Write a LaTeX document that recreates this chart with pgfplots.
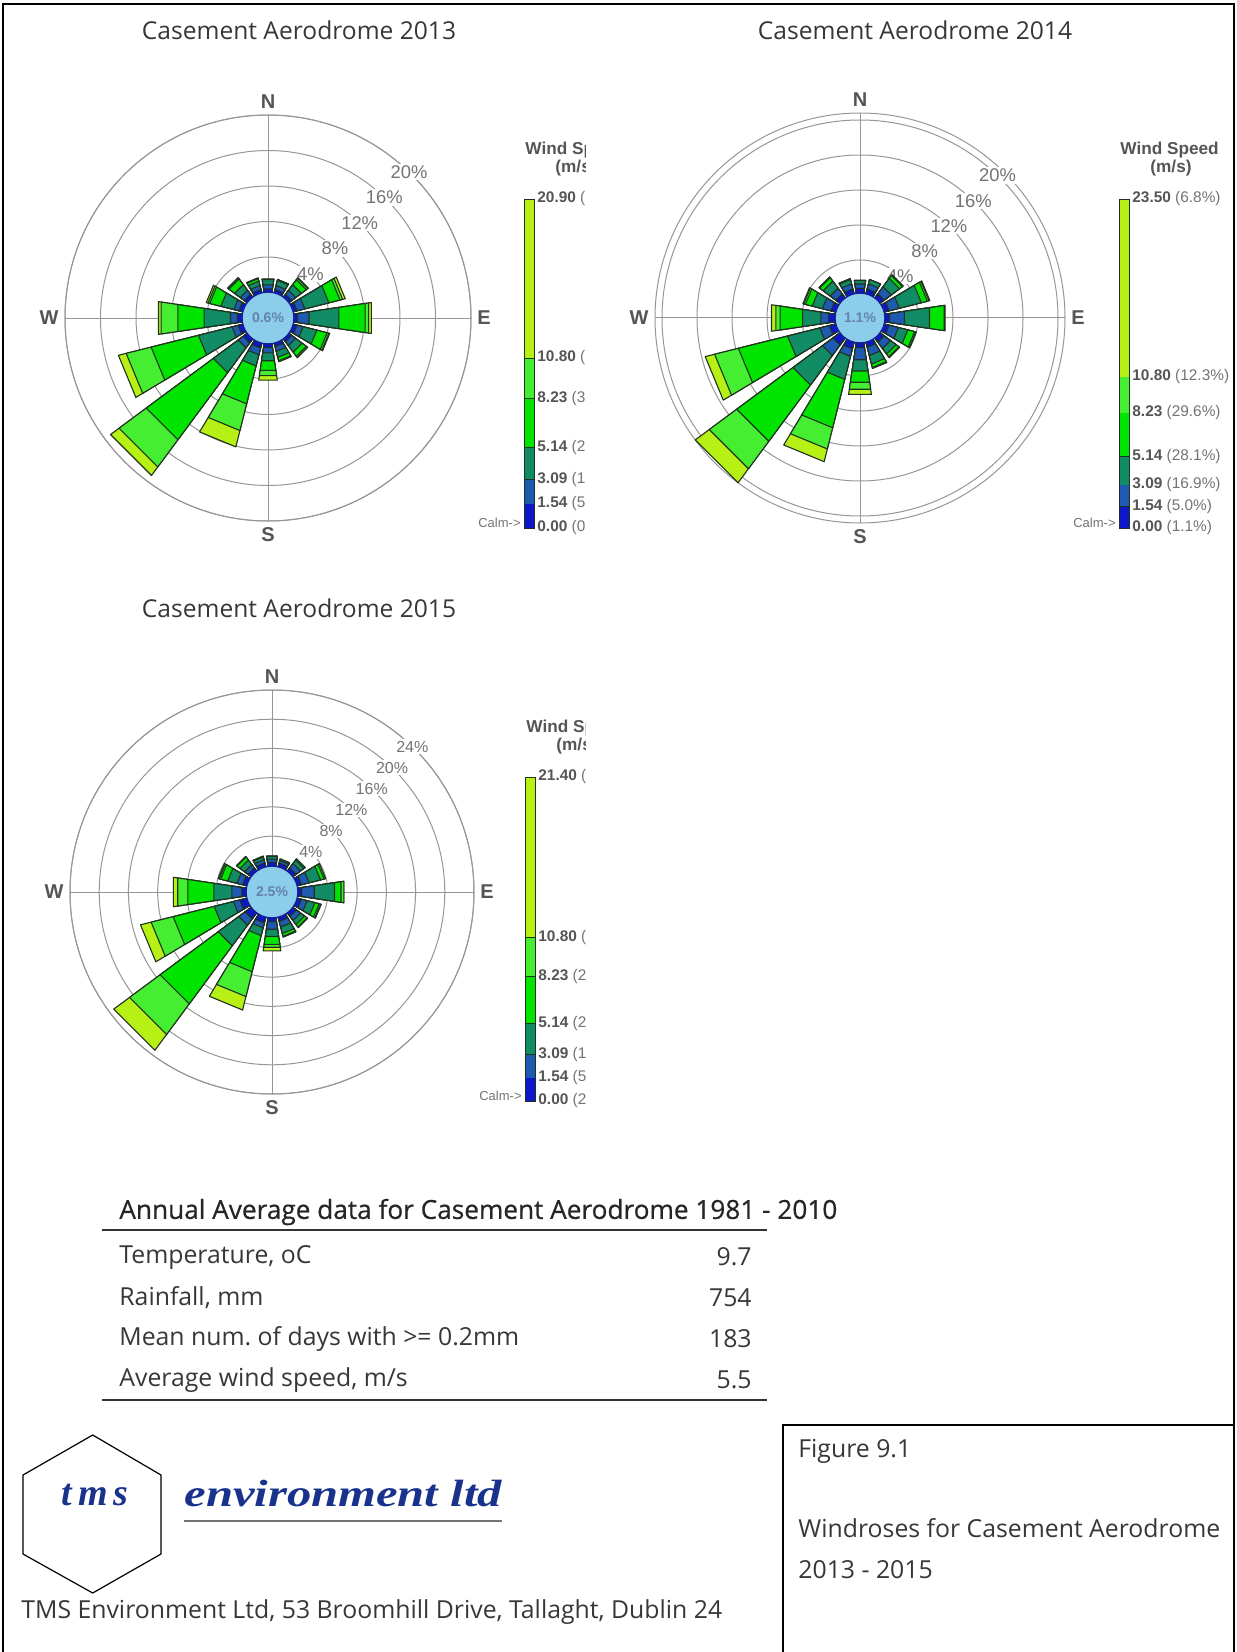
\documentclass[border=0pt]{standalone}
\usepackage{fontspec}
\setmainfont{Open Sans}
\newfontfamily\semib[FakeBold=0.6]{Open Sans}
\newfontfamily\arial{Liberation Sans}
\newfontfamily\tmsserif{Liberation Serif}
\usepackage{graphicx}
\usepackage{pgfplots}
\pgfplotsset{compat=1.18}
\usepgfplotslibrary{polar}

\definecolor{wcA}{RGB}{12,24,200}
\definecolor{wcB}{RGB}{30,90,175}
\definecolor{wcC}{RGB}{18,140,100}
\definecolor{wcD}{RGB}{0,228,0}
\definecolor{wcE}{RGB}{70,238,50}
\definecolor{wcF}{RGB}{182,240,20}
\definecolor{edgec}{RGB}{30,50,30}
\definecolor{gridc}{RGB}{150,150,150}
\definecolor{calmf}{RGB}{140,205,235}
\definecolor{calme}{RGB}{20,30,150}
\definecolor{calmt}{RGB}{100,130,170}
\definecolor{labc}{RGB}{85,85,85}
\definecolor{pctc}{RGB}{115,115,115}
\definecolor{txtc}{RGB}{55,55,55}
\definecolor{tmsblue}{RGB}{25,50,140}

\newcommand\fs[1]{\fontsize{#1}{#1}\selectfont}

\tikzset{
  petal/.style={draw=edgec, line width=0.55pt, line join=round},
  pctlab/.style={fill=white, inner sep=0.8pt, font=\arial\fs{9.2pt}, text=pctc},
  calm/.style={circle, fill=calmf, draw=calme, line width=0.7pt, inner sep=0pt, font=\arial\bfseries\fs{7pt}, text=calmt},
}
\pgfplotsset{rose/.style={anchor=center, scale only axis, xmin=0, xmax=360, ymin=0,
  xtick={0,90,180,270}, xticklabels={E,N,W,S}, yticklabels={},
  grid=major, major grid style={draw=gridc, line width=0.5pt},
  axis line style={draw=gridc, line width=0.5pt}, major tick length=0pt, clip=false,
  xticklabel style={font=\arial\bfseries\fs{10pt}, text=labc, inner sep=3pt}}}

% one layer of a petal: from the centre to the cumulative percentage #2
\newcommand\wlayer[2]{%
  \pgfmathsetmacro\rr{#2+\off}%
  \edef\tmp{\noexpand\addplot[petal,fill=#1] coordinates {(\ta,0) (\ta,\rr) (\tb,\rr) (\tb,0)};}%
  \tmp}
% #1 bearing, #2..#7 cumulative percentages of the six speed classes
\newcommand\petal[7]{%
  \pgfmathsetmacro\ta{90-#1-8.5}%
  \pgfmathsetmacro\tb{90-#1+8.5}%
  \wlayer{wcF}{#7}\wlayer{wcE}{#6}\wlayer{wcD}{#5}\wlayer{wcC}{#4}\wlayer{wcB}{#3}\wlayer{wcA}{#2}}

% legend bar: #1 x-left, #2 y-top, #3 y-bottom (px), #4 vmax, #5 list v/label/pct
\newcommand\wlegend[5]{%
  \pgfmathsetmacro\kk{(#3-#2)/#4}%
  \foreach \va/\vb/\cc in {0/1.54/wcA,1.54/3.09/wcB,3.09/5.14/wcC,5.14/8.23/wcD,8.23/10.80/wcE,10.80/#4/wcF}{%
    \fill[\cc] (#1,{#3-\va*\kk}) rectangle (#1+10,{#3-\vb*\kk});
    \draw[edgec, line width=0.4pt] (#1,{#3-\vb*\kk}) -- (#1+10,{#3-\vb*\kk});
  }
  \draw[edgec,line width=0.4pt] (#1,#2) rectangle (#1+10,#3);
  \foreach \lv/\lt/\lp in {#5}{%
    \node[anchor=west, inner sep=0pt, font=\arial\fs{7.7pt}] at (#1+13,{#3-\lv*\kk}) {\textcolor{labc}{\bfseries\lt}\ \textcolor{pctc}{(\lp)}};
  }
  \node[anchor=east, inner sep=0pt, font=\arial\fs{6.5pt}, text=pctc] at (#1-3,#3-5) {Calm->};
  \node[anchor=west, inner sep=0pt, font=\arial\bfseries\fs{8.6pt}, text=labc] at (#1+1,#2-49) {Wind Speed};
  \node[anchor=center, inner sep=0pt, font=\arial\bfseries\fs{8.6pt}, text=labc] at (#1+52,#2-31) {(m/s)};
}

\begin{document}
\begin{tikzpicture}
\useasboundingbox (0,0) rectangle (618pt,-826pt);

% ---------------- 2013 ----------------
\begin{polaraxis}[rose, at={(134pt,-159pt)}, width=203pt, height=203pt,
  ymax=22.87, ytick={6.87,10.87,14.87,18.87,22.87}]
\def\off{2.87}
\node[pctlab] at (axis cs:46,6.87) {4\%};
\node[pctlab] at (axis cs:46,10.87) {8\%};
\node[pctlab] at (axis cs:46,14.87) {12\%};
\node[pctlab] at (axis cs:46,18.87) {16\%};
\node[pctlab] at (axis cs:46,22.87) {20\%};
\petal{0}{0.45}{0.9}{1.5}{1.55}{1.55}{1.55}
\petal{22.5}{0.45}{0.9}{1.5}{1.6}{1.6}{1.6}
\petal{45}{0.45}{1.0}{1.8}{2.5}{2.7}{2.8}
\petal{67.5}{0.5}{1.4}{4.2}{5.5}{5.8}{6.1}
\petal{90}{0.5}{1.8}{5.2}{8.2}{8.6}{8.9}
\petal{112.5}{0.5}{1.2}{2.8}{4.0}{4.2}{4.3}
\petal{135}{0.45}{1.0}{1.9}{2.5}{2.65}{2.7}
\petal{157.5}{0.45}{1.0}{1.7}{2.1}{2.2}{2.2}
\petal{180}{0.5}{1.1}{2.0}{3.1}{3.7}{4.2}
\petal{202.5}{0.6}{1.4}{2.7}{7.1}{10.2}{12.1}
\petal{225}{0.6}{1.3}{4.8}{14.2}{18.0}{19.2}
\petal{247.5}{0.6}{1.3}{5.2}{10.7}{13.6}{14.5}
\petal{270}{0.6}{1.4}{4.4}{7.4}{9.3}{9.6}
\petal{292.5}{0.5}{1.1}{2.6}{3.9}{4.1}{4.3}
\petal{315}{0.45}{1.0}{1.8}{2.6}{2.75}{2.8}
\petal{337.5}{0.45}{0.9}{1.4}{1.7}{1.75}{1.8}
\node[calm, minimum size=26pt] at (axis cs:0,0) {0.6\%};
\end{polaraxis}

% ---------------- 2014 ----------------
\begin{polaraxis}[rose, at={(430pt,-159pt)}, width=205pt, height=205pt,
  ymax=23.43, ytick={6.63,10.63,14.63,18.63,22.63}]
\def\off{2.63}
\node[pctlab] at (axis cs:46,6.63) {4\%};
\node[pctlab] at (axis cs:46,10.63) {8\%};
\node[pctlab] at (axis cs:46,14.63) {12\%};
\node[pctlab] at (axis cs:46,18.63) {16\%};
\node[pctlab] at (axis cs:46,22.63) {20\%};
\petal{0}{0.8}{1.3}{1.7}{1.7}{1.7}{1.7}
\petal{22.5}{0.8}{1.4}{1.9}{1.9}{1.9}{1.9}
\petal{45}{0.8}{1.8}{3.0}{3.4}{3.5}{3.5}
\petal{67.5}{0.8}{2.0}{4.6}{5.3}{5.5}{5.6}
\petal{90}{0.8}{2.5}{5.4}{7.1}{7.15}{7.2}
\petal{112.5}{0.8}{1.9}{3.0}{3.8}{3.95}{4.0}
\petal{135}{0.8}{1.7}{2.5}{2.9}{3.0}{3.0}
\petal{157.5}{0.8}{1.8}{2.8}{3.2}{3.3}{3.3}
\petal{180}{0.8}{2.2}{3.5}{4.8}{5.6}{6.2}
\petal{202.5}{1.0}{1.9}{4.6}{10.3}{12.8}{14.3}
\petal{225}{1.2}{2.7}{6.9}{14.9}{18.8}{20.8}
\petal{247.5}{1.0}{2.1}{5.9}{11.7}{14.5}{15.6}
\petal{270}{1.0}{1.9}{4.0}{6.6}{7.1}{7.6}
\petal{292.5}{0.8}{1.8}{3.0}{3.8}{4.0}{4.1}
\petal{315}{0.8}{1.6}{2.6}{3.1}{3.2}{3.2}
\petal{337.5}{0.8}{1.4}{1.9}{2.0}{2.0}{2.0}
\node[calm, minimum size=25pt] at (axis cs:0,0) {1.1\%};
\end{polaraxis}

% ---------------- 2015 ----------------
\begin{polaraxis}[rose, at={(136pt,-446pt)}, width=202pt, height=202pt,
  ymax=27.65, ytick={7.65,11.65,15.65,19.65,23.65,27.65}]
\def\off{3.65}
\node[pctlab, font=\arial\fs{8pt}] at (axis cs:46,7.65) {4\%};
\node[pctlab, font=\arial\fs{8pt}] at (axis cs:46,11.65) {8\%};
\node[pctlab, font=\arial\fs{8pt}] at (axis cs:46,15.65) {12\%};
\node[pctlab, font=\arial\fs{8pt}] at (axis cs:46,19.65) {16\%};
\node[pctlab, font=\arial\fs{8pt}] at (axis cs:46,23.65) {20\%};
\node[pctlab, font=\arial\fs{8pt}] at (axis cs:46,27.65) {24\%};
\petal{0}{0.45}{0.9}{1.3}{1.3}{1.3}{1.3}
\petal{22.5}{0.45}{0.8}{1.0}{1.0}{1.0}{1.0}
\petal{45}{0.45}{1.2}{1.8}{2.0}{2.0}{2.0}
\petal{67.5}{0.5}{1.6}{3.2}{3.7}{3.9}{3.9}
\petal{90}{0.45}{2.2}{5.0}{5.9}{6.3}{6.3}
\petal{112.5}{0.5}{1.3}{2.4}{3.0}{3.2}{3.3}
\petal{135}{0.5}{1.2}{1.9}{2.3}{2.4}{2.4}
\petal{157.5}{0.5}{1.3}{2.2}{2.6}{2.7}{2.7}
\petal{180}{0.45}{1.5}{2.5}{3.6}{4.0}{4.5}
\petal{202.5}{0.7}{1.4}{2.5}{7.6}{11.1}{13.0}
\petal{225}{0.9}{2.0}{5.5}{15.4}{20.6}{23.3}
\petal{247.5}{0.9}{1.8}{4.5}{10.3}{13.4}{14.9}
\petal{270}{0.5}{1.9}{4.4}{8.0}{9.4}{10.0}
\petal{292.5}{0.5}{1.3}{2.6}{3.6}{3.8}{3.95}
\petal{315}{0.45}{1.0}{1.8}{2.3}{2.4}{2.4}
\petal{337.5}{0.45}{0.9}{1.3}{1.4}{1.4}{1.4}
\node[calm, minimum size=26pt] at (axis cs:0,0) {2.5\%};
\end{polaraxis}

\begin{scope}[x=0.5pt,y=-0.5pt]
% page frame
\draw[black, line width=0.75pt] (3,1652) -- (3,4) -- (1234,4) -- (1234,1425);
% titles
\node[font=\fs{12.3pt}, text=txtc] at (299,30) {Casement Aerodrome 2013};
\node[font=\fs{12.3pt}, text=txtc] at (915,30) {Casement Aerodrome 2014};
\node[font=\fs{12.3pt}, text=txtc] at (299,608) {Casement Aerodrome 2015};

% legends
\begin{scope}
\clip (400,100) rectangle (585,560);
\wlegend{524}{199}{528}{20.90}{0/0.00/0.6\%,1.54/1.54/5.3\%,3.09/3.09/16.2\%,5.14/5.14/27.6\%,8.23/8.23/31.0\%,10.80/10.80/13.9\%,20.90/20.90/5.4\%}
\end{scope}
\begin{scope}
\clip (1000,100) rectangle (1233,560);
\wlegend{1119}{199}{528}{23.50}{0/0.00/1.1\%,1.54/1.54/5.0\%,3.09/3.09/16.9\%,5.14/5.14/28.1\%,8.23/8.23/29.6\%,10.80/10.80/12.3\%,23.50/23.50/6.8\%}
\end{scope}
\begin{scope}
\clip (400,680) rectangle (585,1130);
\wlegend{525}{777}{1101}{21.40}{0/0.00/2.5\%,1.54/1.54/5.6\%,3.09/3.09/15.8\%,5.14/5.14/26.9\%,8.23/8.23/29.3\%,10.80/10.80/13.4\%,21.40/21.40/6.5\%}
\end{scope}

% table
\node[anchor=west, inner sep=0pt, font=\semib\fs{13.1pt}, text=black!85] at (119,1212) {Annual Average data for Casement Aerodrome 1981 - 2010};
\draw[black!80, line width=0.75pt] (102,1230) -- (767,1230);
\draw[black!80, line width=0.75pt] (102,1400) -- (767,1400);
\foreach \yy/\aa/\bb in {1257/{Temperature, oC}/9.7, 1298/{Rainfall, mm}/754, 1339/{Mean num.\ of days with >= 0.2mm}/183, 1380/{Average wind speed, m/s}/5.5}{
  \node[anchor=west, inner sep=0pt, font=\fs{12.4pt}, text=txtc] at (119,\yy) {\aa};
  \node[anchor=east, inner sep=0pt, font=\fs{12.4pt}, text=txtc] at (752,\yy) {\bb};
}

% logo
\draw[black, line width=0.6pt] (92.7,1435) -- (161,1475) -- (161,1554) -- (92.7,1593) -- (23,1554) -- (23,1475) -- cycle;
\node[font=\tmsserif\bfseries\itshape\fs{19pt}, text=tmsblue] at (95,1495) {t\,m\,s};
\node[anchor=west, inner sep=0pt, text=tmsblue] at (184,1493) {\scalebox{1.28}[1]{\tmsserif\bfseries\itshape\fs{19pt}environment ltd}};
\draw[black!55, line width=1pt] (184,1521) -- (502,1521);
\node[anchor=west, inner sep=0pt, font=\fs{12.4pt}, text=txtc] at (21,1612) {TMS Environment Ltd, 53 Broomhill Drive, Tallaght, Dublin 24};

% figure box
\draw[black, line width=1pt] (783,1652) -- (783,1425) -- (1234,1425) -- (1234,1652);
\node[anchor=west, inner sep=0pt, font=\fs{12.4pt}, text=txtc] at (798,1451) {Figure 9.1};
\node[anchor=west, inner sep=0pt, font=\fs{12.4pt}, text=txtc] at (798,1528) {Windroses for Casement Aerodrome};
\node[anchor=west, inner sep=0pt, font=\fs{12.4pt}, text=txtc] at (798,1570) {2013 - 2015};
\end{scope}
\end{tikzpicture}
\end{document}
